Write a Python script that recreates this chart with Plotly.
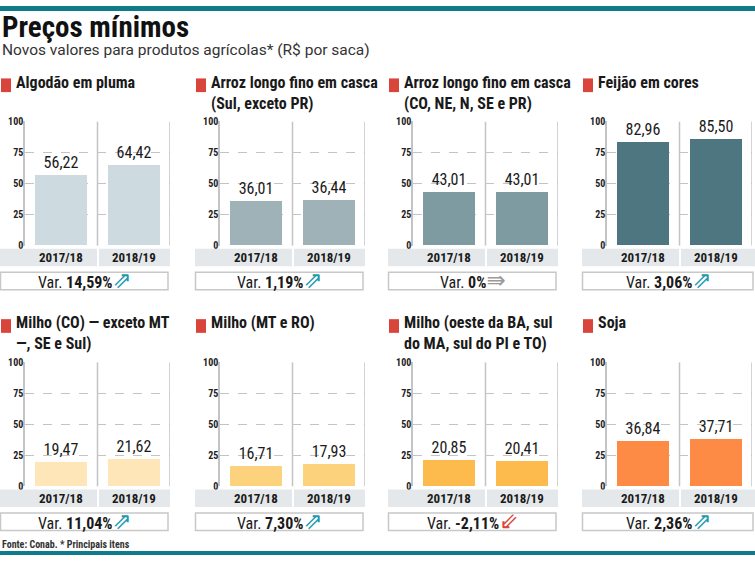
import plotly.graph_objects as go

W, H = 755, 561

# ---------------- data ----------------
seasons = ["2017/18", "2018/19"]
panel_titles = [
    "Algodão em pluma",
    "Arroz longo fino em casca<br>(Sul, exceto PR)",
    "Arroz longo fino em casca<br>(CO, NE, N, SE e PR)",
    "Feijão em cores",
    "Milho (CO) — exceto MT<br>—, SE e Sul)",
    "Milho (MT e RO)",
    "Milho (oeste da BA, sul<br>do MA, sul do PI e TO)",
    "Soja",
]
values_2017_18 = [56.22, 36.01, 43.01, 82.96, 19.47, 16.71, 20.85, 36.84]
values_2018_19 = [64.42, 36.44, 43.01, 85.50, 21.62, 17.93, 20.41, 37.71]
var_labels = ["14,59%", "1,19%", "0%", "3,06%", "11,04%", "7,30%", "-2,11%", "2,36%"]
var_trend = ["up", "up", "flat", "up", "up", "up", "down", "up"]
y_ticks = [0, 25, 50, 75, 100]

bar_colors = ["#CDDAE0", "#9FB2B7", "#7E9BA2", "#4E7681",
              "#FEE6B8", "#FDD27D", "#FDBB4E", "#FD8B45"]

# ---------------- geometry (px) ----------------
col_start = [0, 195, 388, 582]
row_title_y = [81, 327]
row_y100 = [118, 364]
row_y0 = [245, 491]
row_band = [(248, 266), (494, 512)]
row_var = [(272, 290), (518, 536)]

FONT = "Liberation Sans Narrow, Roboto Condensed, Arial Narrow, Roboto, sans-serif"
GRID = "#C4C4C4"

def px(x):
    return x / W

def py(y):
    return 1 - y / H

fig = go.Figure()
shapes = []
annotations = []

arrow_glyph = {"up": ("⇗", "#1E9AAD"), "flat": ("⇛", "#9A9A9A"), "down": ("⇙", "#D9453A")}

for i in range(8):
    r, c = divmod(i, 4)
    s = col_start[c]
    left, div, right = s + 25, s + 98, (s + 170 if c < 3 else 752)
    band_right = right if c < 3 else 755
    n = i + 1
    xa = "x" if n == 1 else f"x{n}"
    ya = "y" if n == 1 else f"y{n}"

    vals = [values_2017_18[i], values_2018_19[i]]
    fig.add_trace(go.Bar(
        x=[0, 1], y=vals, width=0.72,
        marker=dict(color=bar_colors[i], line=dict(width=0)),
        text=[f"{v:.2f}".replace(".", ",") for v in vals],
        textposition="outside", cliponaxis=False,
        textfont=dict(family=FONT, size=16, color="#1a1a1a"),
        xaxis=xa, yaxis=ya, showlegend=False, hoverinfo="skip",
    ))

    axname = "xaxis" if n == 1 else f"xaxis{n}"
    ayname = "yaxis" if n == 1 else f"yaxis{n}"
    fig.layout[axname] = dict(
        domain=[px(left), px(right)], range=[-0.5, 1.5], anchor=ya,
        showgrid=False, zeroline=False, showticklabels=False, showline=False,
        fixedrange=True,
    )
    fig.layout[ayname] = dict(
        domain=[py(row_y0[r]), py(row_y100[r])], range=[0, 100], anchor=xa,
        tickvals=y_ticks, ticktext=[str(t) for t in y_ticks],
        showgrid=True, gridcolor=GRID, griddash="dash", gridwidth=1,
        zeroline=False, showline=True, linecolor=GRID, linewidth=1.5,
        tickfont=dict(family=FONT, size=10, color="#222", weight="bold"),
        ticks="", ticklabelstandoff=-2, fixedrange=True,
    )

    # vertical divider and right edge
    for xv in (0.5, 1.5):
        shapes.append(dict(type="line", xref=xa, yref=ya, x0=xv, x1=xv, y0=0, y1=100,
                           line=dict(color=GRID, width=1.5), layer="below"))

    # red square + title
    shapes.append(dict(type="rect", xref="paper", yref="paper",
                       x0=px(s + 1), x1=px(s + 11),
                       y0=py(88 + 246 * r), y1=py(74 + 246 * r),
                       fillcolor="#D9453A", line=dict(width=0)))
    annotations.append(dict(
        xref="paper", yref="paper", x=px(s + 14), y=py(row_title_y[r] - 15),
        xanchor="left", yanchor="top", align="left", showarrow=False,
        text=f"<b>{panel_titles[i]}</b>",
        font=dict(family=FONT, size=16, color="#1a1a1a"),
    ))

    # category band
    b0, b1 = row_band[r]
    shapes.append(dict(type="rect", xref="paper", yref="paper",
                       x0=px(s), x1=px(div - 1), y0=py(b1), y1=py(b0),
                       fillcolor="#E4E8EA", line=dict(width=0)))
    shapes.append(dict(type="rect", xref="paper", yref="paper",
                       x0=px(div + 1), x1=px(band_right), y0=py(b1), y1=py(b0),
                       fillcolor="#E4E8EA", line=dict(width=0)))
    for k, lab in enumerate(seasons):
        annotations.append(dict(
            xref=xa, yref="paper", x=k, y=py((b0 + b1) / 2),
            xanchor="center", yanchor="middle", showarrow=False,
            text=f"<b>{lab}</b>", font=dict(family=FONT, size=13, color="#1a1a1a"),
        ))

    # variation box
    v0, v1 = row_var[r]
    shapes.append(dict(type="rect", xref="paper", yref="paper",
                       x0=px(s + 0.5), x1=px(band_right - 2), y0=py(v1), y1=py(v0),
                       fillcolor="white", line=dict(color="#C8C8C8", width=1.5)))
    g, gc = arrow_glyph[var_trend[i]]
    annotations.append(dict(
        xref="paper", yref="paper", x=px((s + band_right) / 2), y=py((v0 + v1) / 2 - 1),
        xanchor="center", yanchor="middle", showarrow=False,
        text=(f"Var. <b>{var_labels[i]}</b>"
              f"<span style='color:{gc};font-size:23px;font-family:DejaVu Sans'>{g}</span>"),
        font=dict(family=FONT, size=16, color="#1a1a1a"),
    ))

# header / footer
shapes.append(dict(type="rect", xref="paper", yref="paper", x0=0, x1=1, y0=py(5), y1=1,
                   fillcolor="#0E7A8A", line=dict(width=0)))
shapes.append(dict(type="rect", xref="paper", yref="paper", x0=0, x1=1, y0=0, y1=py(557),
                   fillcolor="#0E7A8A", line=dict(width=0)))
annotations.append(dict(
    xref="paper", yref="paper", x=0, y=py(2), xanchor="left", yanchor="top",
    showarrow=False, text="<b>Preços mínimos</b>",
    font=dict(family=FONT, size=29, color="#111"),
))
annotations.append(dict(
    xref="paper", yref="paper", x=0, y=py(34), xanchor="left", yanchor="top",
    showarrow=False, text="Novos valores para produtos agrícolas* (R$ por saca)",
    font=dict(family="Roboto, sans-serif", size=15.5, color="#333"),
))
annotations.append(dict(
    xref="paper", yref="paper", x=0, y=py(550), xanchor="left", yanchor="middle",
    showarrow=False, text="<b>Fonte: Conab. * Principais itens</b>",
    font=dict(family=FONT, size=10, color="#333"),
))

fig.update_layout(
    width=W, height=H, margin=dict(l=0, r=0, t=0, b=0),
    paper_bgcolor="white", plot_bgcolor="white",
    shapes=shapes, annotations=annotations, bargap=0,
    font=dict(family=FONT),
)

fig.write_html("out.html")
